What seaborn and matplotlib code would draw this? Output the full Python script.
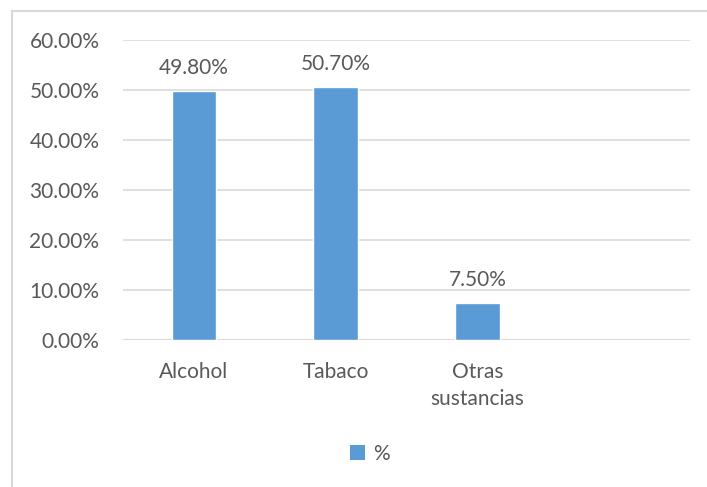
import matplotlib
matplotlib.use("Agg")
import matplotlib.pyplot as plt
import seaborn as sns
import pandas as pd
from matplotlib.lines import Line2D
from matplotlib.patches import Patch
from matplotlib.ticker import FuncFormatter

categories = ["Alcohol", "Tabaco", "Otras\nsustancias"]
values = [0.498, 0.507, 0.075]
series_name = "%"
yticks = [0.0, 0.1, 0.2, 0.3, 0.4, 0.5, 0.6]

sns.set_theme(style="white")
plt.rcParams["font.family"] = ["Lato", "DejaVu Sans"]

text_color = "#595959"
bar_color = "#5b9bd5"
grid_color = "#d9d9d9"
fs = 15

df = pd.DataFrame({"cat": categories, "val": values})

W, H = 707, 487
fig = plt.figure(figsize=(W / 100, H / 100), dpi=100)
ax = fig.add_axes([123 / W, 1 - 340 / H, (690 - 123) / W, 300 / H])

sns.barplot(data=df, x="cat", y="val", order=categories, color=bar_color,
            width=0.314, saturation=1, ax=ax)

# leave room for a fourth, empty slot on the right
ax.set_xlim(-0.5, 3.5)
ax.set_ylim(0, 0.6)
ax.set_yticks(yticks)
ax.yaxis.set_major_formatter(FuncFormatter(lambda v, p: f"{v * 100:.2f}%"))
ax.set_xlabel("")
ax.set_ylabel("")

for s in ax.spines.values():
    s.set_visible(False)
ax.grid(axis="y", color=grid_color, linewidth=1.2)
ax.set_axisbelow(True)
ax.axhline(0, color=grid_color, linewidth=1.5, zorder=0.5)

ax.tick_params(axis="y", length=0, pad=17, labelsize=fs, labelcolor=text_color)
ax.tick_params(axis="x", length=0, pad=16, labelsize=fs, labelcolor=text_color)
for lab in ax.get_xticklabels():
    lab.set_linespacing(1.45)
    lab.set_verticalalignment("top")

for i, v in enumerate(values):
    ax.annotate(f"{v * 100:.2f}%", (i, v), xytext=(0, 9), textcoords="offset points",
                ha="center", va="bottom", fontsize=fs, color=text_color)

handle = Patch(facecolor=bar_color, edgecolor="none")
fig.legend([handle], [series_name], loc="center", bbox_to_anchor=(370 / W, 1 - 454 / H),
           frameon=False, fontsize=fs, labelcolor=text_color,
           handlelength=0.7, handleheight=0.7, handletextpad=0.4)

# chart area border (top and left edges)
fig.add_artist(Line2D([12 / W, 1.0], [1 - 10.5 / H, 1 - 10.5 / H], transform=fig.transFigure,
                      color=grid_color, linewidth=1.5))
fig.add_artist(Line2D([12 / W, 12 / W], [0.0, 1 - 10.5 / H], transform=fig.transFigure,
                      color=grid_color, linewidth=1.5))

fig.savefig("out.png", dpi=100, facecolor="white")
